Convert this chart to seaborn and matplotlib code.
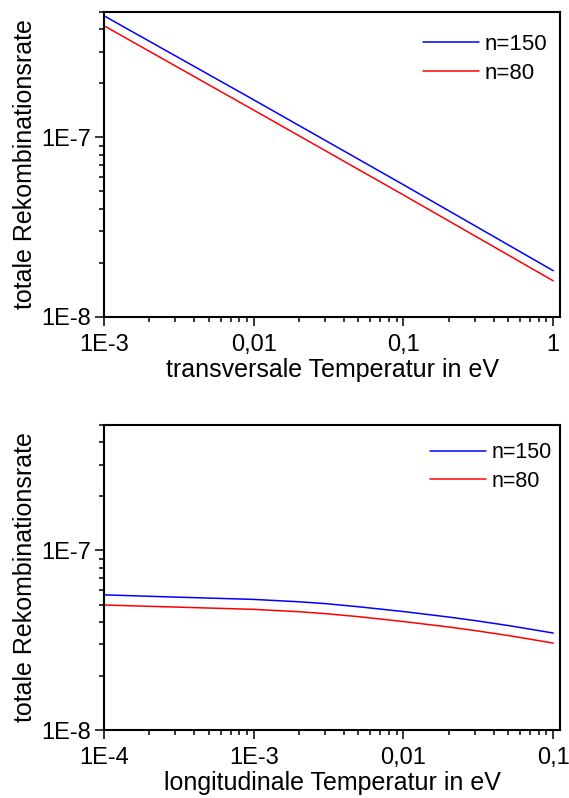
import numpy as np
import pandas as pd
import matplotlib
matplotlib.use("Agg")
import matplotlib.pyplot as plt
import matplotlib.ticker as mticker
import seaborn as sns

# ---- data ----
t_trans = [1e-3, 1e-2, 1e-1, 1.0]
rate_trans_150 = [4.76e-7, 1.62e-7, 5.45e-8, 1.81e-8]
rate_trans_80 = [4.19e-7, 1.42e-7, 4.78e-8, 1.59e-8]

t_long = [1e-4, 3e-4, 1e-3, 2e-3, 3e-3, 5e-3, 1e-2, 2e-2, 3e-2, 5e-2, 1e-1]
rate_long_150 = [5.66e-8, 5.50e-8, 5.34e-8, 5.18e-8, 5.06e-8, 4.86e-8, 4.57e-8,
                 4.26e-8, 4.07e-8, 3.82e-8, 3.47e-8]
rate_long_80 = [4.97e-8, 4.84e-8, 4.70e-8, 4.56e-8, 4.45e-8, 4.28e-8, 4.02e-8,
                3.75e-8, 3.58e-8, 3.36e-8, 3.05e-8]

series_labels = ["n=150", "n=80"]
series_colors = ["#0000ff", "#ff0000"]

top_xticks = [1e-3, 1e-2, 1e-1, 1.0]
top_xticklabels = ["1E-3", "0,01", "0,1", "1"]
bot_xticks = [1e-4, 1e-3, 1e-2, 1e-1]
bot_xticklabels = ["1E-4", "1E-3", "0,01", "0,1"]
yticks = [1e-8, 1e-7]
yticklabels = ["1E-8", "1E-7"]

ylabel = "totale Rekombinationsrate"
top_xlabel = "transversale Temperatur in eV"
bot_xlabel = "longitudinale Temperatur in eV"

# ---- style ----
sns.set_style("ticks")
plt.rcParams["font.family"] = ["Liberation Sans", "DejaVu Sans"]
plt.rcParams["axes.linewidth"] = 1.5
plt.rcParams["text.color"] = "black"
plt.rcParams["axes.labelcolor"] = "black"
plt.rcParams["xtick.color"] = "black"
plt.rcParams["ytick.color"] = "black"

fig = plt.figure(figsize=(5.69, 7.98), dpi=100)
ax1 = fig.add_axes([0.1828, 0.6028, 0.8014, 0.3822])
ax2 = fig.add_axes([0.1828, 0.0852, 0.8014, 0.3822])

df_top = pd.DataFrame({
    "T": t_trans * 2,
    "rate": rate_trans_150 + rate_trans_80,
    "n": [series_labels[0]] * len(t_trans) + [series_labels[1]] * len(t_trans),
})
df_bot = pd.DataFrame({
    "T": t_long * 2,
    "rate": rate_long_150 + rate_long_80,
    "n": [series_labels[0]] * len(t_long) + [series_labels[1]] * len(t_long),
})

pal = dict(zip(series_labels, series_colors))


def style_axes(ax, xticks, xticklabels, xlim, xlabel, leg_anchor, leg_fs, handlelen):
    ax.set_xscale("log")
    ax.set_yscale("log")
    ax.set_xlim(*xlim)
    ax.set_ylim(1e-8, 5e-7)
    ax.xaxis.set_major_locator(mticker.FixedLocator(xticks))
    ax.xaxis.set_major_formatter(mticker.FixedFormatter(xticklabels))
    ax.xaxis.set_minor_locator(mticker.LogLocator(base=10, subs=np.arange(2, 10)))
    ax.xaxis.set_minor_formatter(mticker.NullFormatter())
    ax.yaxis.set_major_locator(mticker.FixedLocator(yticks))
    ax.yaxis.set_major_formatter(mticker.FixedFormatter(yticklabels))
    ax.yaxis.set_minor_locator(mticker.LogLocator(base=10, subs=np.arange(2, 10)))
    ax.yaxis.set_minor_formatter(mticker.NullFormatter())
    ax.tick_params(which="major", length=6.5, width=1.1, labelsize=17, direction="out",
                   top=False, right=False, colors="black")
    ax.tick_params(axis="x", which="major", pad=5.5)
    ax.tick_params(axis="y", which="major", pad=3)
    ax.tick_params(which="minor", length=3.6, width=1.1, direction="out",
                   top=False, right=False, colors="black")
    for s in ax.spines.values():
        s.set_visible(True)
        s.set_linewidth(1.5)
        s.set_color("black")
    ax.set_xlabel(xlabel, fontsize=18, labelpad=2, color="black")
    ax.set_ylabel(ylabel, fontsize=18, labelpad=3, color="black")
    leg = ax.legend(loc="upper left", bbox_to_anchor=leg_anchor, frameon=False,
                    fontsize=leg_fs, handlelength=handlelen, handletextpad=0.27,
                    labelspacing=0.35, borderpad=0, borderaxespad=0)
    for line in leg.get_lines():
        line.set_linewidth(1.1)
    for txt in leg.get_texts():
        txt.set_color("black")


sns.lineplot(data=df_top, x="T", y="rate", hue="n", palette=pal, ax=ax1, linewidth=1.1)
style_axes(ax1, top_xticks, top_xticklabels, (1e-3, 1.11), top_xlabel, (0.70, 0.928), 16, 2.5)

sns.lineplot(data=df_bot, x="T", y="rate", hue="n", palette=pal, ax=ax2, linewidth=1.1)
style_axes(ax2, bot_xticks, bot_xticklabels, (1e-4, 0.111), bot_xlabel, (0.715, 0.944), 15.5, 2.6)

fig.savefig("out.png", dpi=100)
